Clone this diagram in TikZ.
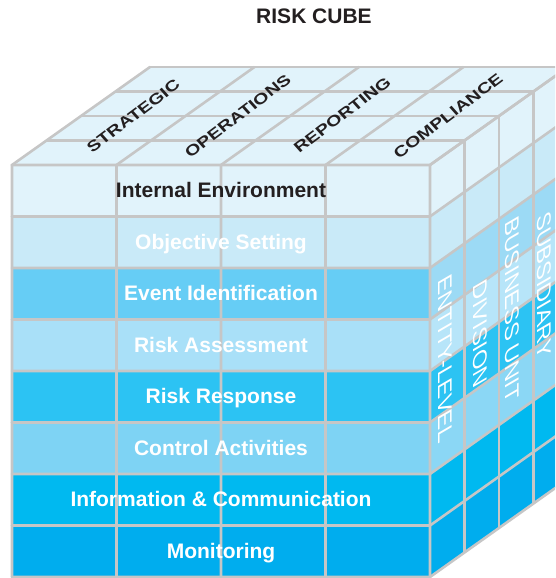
\documentclass[tikz,border=0pt]{standalone}
\usepackage{fontspec}
\setmainfont{Liberation Sans}

\definecolor{gridgray}{HTML}{C6C6C6}
\definecolor{labelblack}{HTML}{231F20}
\definecolor{topface}{HTML}{E1F3FB}
\definecolor{rowone}{HTML}{E1F3FB}
\definecolor{rowtwo}{HTML}{C9EAF8}
\definecolor{rowthree}{HTML}{66CDF5}
\definecolor{rowfour}{HTML}{A9E0F8}
\definecolor{rowfive}{HTML}{2CC3F3}
\definecolor{rowsix}{HTML}{7ED3F4}
\definecolor{rowseven}{HTML}{00B9F0}
\definecolor{roweight}{HTML}{00ADEE}
\definecolor{sidethree}{HTML}{9CDAF5}
\definecolor{sidefour}{HTML}{B7E5F9}
\definecolor{sidesix}{HTML}{8BD7F5}

\tikzset{
  gridline/.style={draw=gridgray, line width=2.6pt, line cap=round},
  titlelabel/.style={font=\fontsize{21}{25}\selectfont\bfseries, text=labelblack, inner sep=0pt},
  rowlabel/.style={font=\fontsize{21}{25}\selectfont\bfseries, text=white, anchor=base, inner sep=0pt},
  toplabel/.style={font=\fontsize{15}{18}\selectfont\bfseries, text=labelblack, inner sep=0pt,
    cm={1.04,0.78,-0.68,0.76,(0,0)}},
  sidelabel/.style={font=\fontsize{21}{25}\selectfont, text=white, inner sep=0pt,
    cm={0,-1.13,0.94,0.55,(0,0)}},
}

\begin{document}
\begin{tikzpicture}[x=1pt, y=1pt]
  \useasboundingbox (0,0) rectangle (555,578);
  \clip (0,0) rectangle (555,578);

  % Title
  \node[titlelabel] (title) at (314,562) {RISK CUBE};

  % Top face
  \fill[topface] (12,413) -- (430,413) -- (568,511) -- (150,511) -- cycle;

  % Front and side bands, one per row
  \foreach \r/\front/\side in {1/rowone/rowone, 2/rowtwo/rowtwo, 3/rowthree/sidethree,
      4/rowfour/sidefour, 5/rowfive/rowfive, 6/rowsix/sidesix, 7/rowseven/rowseven,
      8/roweight/roweight} {
    \fill[\front] (12,{413-51.5*\r}) rectangle (430,{413-51.5*(\r-1)});
    \fill[\side] (430,{413-51.5*\r}) -- ++(138,98) -- ++(0,51.5) -- ++(-138,-98) -- cycle;
  }

  % Grid: row lines over front and side
  \foreach \i in {0,...,8}
    \draw[gridline] (12,{413-51.5*\i}) -- (430,{413-51.5*\i}) -- ++(138,98);
  % Grid: columns on front and top, depth layers on side and top
  \foreach \i in {0,...,4} {
    \draw[gridline] ({12+104.5*\i},1) -- ({12+104.5*\i},413) -- ++(138,98);
    \draw[gridline] ({430+34.5*\i},{1+24.5*\i}) -- ({430+34.5*\i},{413+24.5*\i})
      -- ({12+34.5*\i},{413+24.5*\i});
  }

  % Components on the front
  \node[rowlabel, text=labelblack] (internal) at (221,380) {Internal Environment};
  \node[rowlabel] (objective) at (221,328.5) {Objective Setting};
  \node[rowlabel] (event) at (221,277) {Event Identification};
  \node[rowlabel] (assessment) at (221,225.5) {Risk Assessment};
  \node[rowlabel] (response) at (221,174) {Risk Response};
  \node[rowlabel] (control) at (221,122.5) {Control Activities};
  \node[rowlabel] (information) at (221,71) {Information \& Communication};
  \node[rowlabel] (monitoring) at (221,19.5) {Monitoring};

  % Objectives on the top
  \node[toplabel] (strategic) at (133.25,462) {STRATEGIC};
  \node[toplabel] (operations) at (237.75,462) {OPERATIONS};
  \node[toplabel] (reporting) at (342.25,463) {REPORTING};
  \node[toplabel] (compliance) at (448,462) {COMPLIANCE};

  % Units on the side
  \node[sidelabel] (entity) at (445.5,219) {ENTITY-LEVEL};
  \node[sidelabel] (division) at (480.5,244) {DIVISION};
  \node[sidelabel] (business) at (512.5,268) {BUSINESS UNIT};
  \node[sidelabel] (subsidiary) at (544,292.75) {SUBSIDIARY};
\end{tikzpicture}
\end{document}
